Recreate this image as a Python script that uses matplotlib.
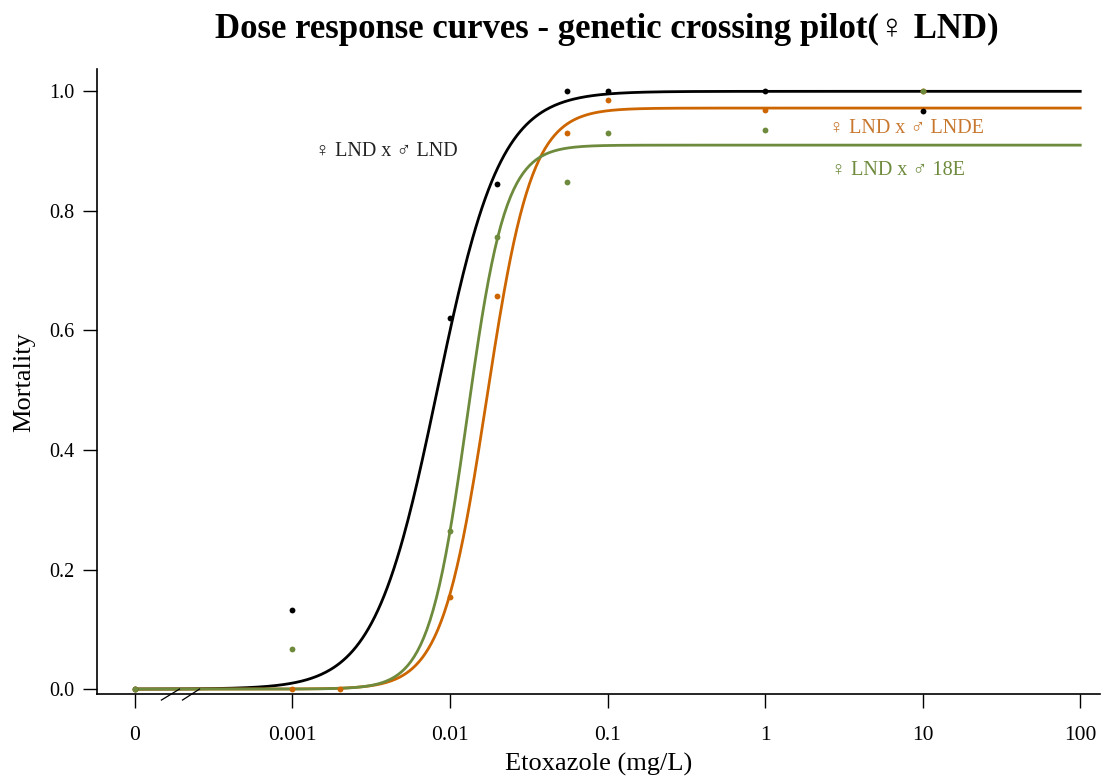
import numpy as np
import matplotlib
matplotlib.use("Agg")
import matplotlib.pyplot as plt

plt.rcParams['font.family'] = ['Liberation Serif', 'DejaVu Serif']

# observed mortality per cross (dose 0 = control, drawn at the axis break)
doses = [0, 0.001, 0.01, 0.02, 0.055, 0.1, 1, 10]
mort_lnd = [0.0, 0.132, 0.620, 0.845, 1.0, 1.0, 1.0, 0.967]
mort_lnde = [0.0, 0.0, 0.154, 0.657, 0.930, 0.985, 0.968, 1.0]
mort_18e = [0.0, 0.067, 0.264, 0.757, 0.849, 0.930, 0.936, 1.0]
extra_dose_lnde = [0.002]
extra_mort_lnde = [0.0]

# fitted log-logistic parameters (upper limit d, ED50 e, slope b on log10 dose)
fit_lnd = dict(d=1.0, e=0.0083, b=5.0)
fit_lnde = dict(d=0.972, e=0.0171, b=7.0)
fit_18e = dict(d=0.91, e=0.01285, b=8.2)

labels = ["\u2640 LND x \u2642 LND", "\u2640 LND x \u2642 LNDE", "\u2640 LND x \u2642 18E"]
colors = ["black", "#CD6600", "#6E8B3D"]
label_colors = ["#222222", "#C8782E", "#6E8B3D"]

bp = 1e-4  # where dose 0 is drawn
xticks = [bp, 0.001, 0.01, 0.1, 1, 10, 100]
xticklabels = ["0", "0.001", "0.01", "0.1", "1", "10", "100"]
yticks = [0.0, 0.2, 0.4, 0.6, 0.8, 1.0]


def ll3(x, d, e, b):
    return d / (1 + np.exp(-b * (np.log10(x) - np.log10(e))))


fig = plt.figure(figsize=(11.08, 7.79), dpi=100)
ax = fig.add_axes([0.0875, 0.109, 0.9055, 0.802])

xs = np.logspace(np.log10(bp), 2, 600)
series = [(mort_lnd, fit_lnd), (mort_lnde, fit_lnde), (mort_18e, fit_18e)]
for (m, fit), col in zip(series, colors):
    ax.plot(xs, ll3(xs, **fit), color=col, lw=2.0, zorder=2)

for (m, fit), col in zip(series, colors):
    xd = [d if d > 0 else bp for d in doses]
    ax.plot(xd, m, 'o', color=col, ms=4.2, mec='none', zorder=3)
    if col == colors[1]:
        ax.plot(extra_dose_lnde, extra_mort_lnde, 'o', color=col, ms=4.2, mec='none', zorder=3)

ax.set_xscale('log')
ax.set_xlim(10 ** -4.241, 10 ** 2.127)
ax.set_ylim(-0.0084, 1.0368)
ax.set_xticks(xticks)
ax.set_xticklabels(xticklabels)
ax.minorticks_off()
ax.set_yticks(yticks)
ax.set_yticklabels(["%.1f" % v for v in yticks])
ax.tick_params(axis='both', length=10, width=1, direction='out')
ax.tick_params(axis='x', labelsize=15.5, pad=13)
ax.tick_params(axis='y', labelsize=14.5, pad=6)
for s in ['top', 'right']:
    ax.spines[s].set_visible(False)
for s in ['left', 'bottom']:
    ax.spines[s].set_linewidth(1.2)

# axis break marks
for x0, x1 in [(10 ** -3.832, 10 ** -3.717), (10 ** -3.698, 10 ** -3.590)]:
    ax.plot([x0, x1], [-0.0184, 0.0], color='black', lw=0.9, clip_on=False, zorder=4)

ax.text(0.00395, 0.900, labels[0], color=label_colors[0], fontsize=14.5, ha='center', va='center')
ax.text(7.9, 0.938, labels[1], color=label_colors[1], fontsize=14.5, ha='center', va='center')
ax.text(6.93, 0.868, labels[2], color=label_colors[2], fontsize=14.5, ha='center', va='center')

ax.set_xlabel("Etoxazole (mg/L)", fontsize=19, labelpad=6)
ax.set_ylabel("Mortality", fontsize=19, labelpad=10)
fig.text(0.548, 0.962, "Dose response curves - genetic crossing pilot(\u2640 LND)", fontsize=25,
         fontweight='bold', ha='center', va='center')

fig.savefig("out.png", dpi=100)
